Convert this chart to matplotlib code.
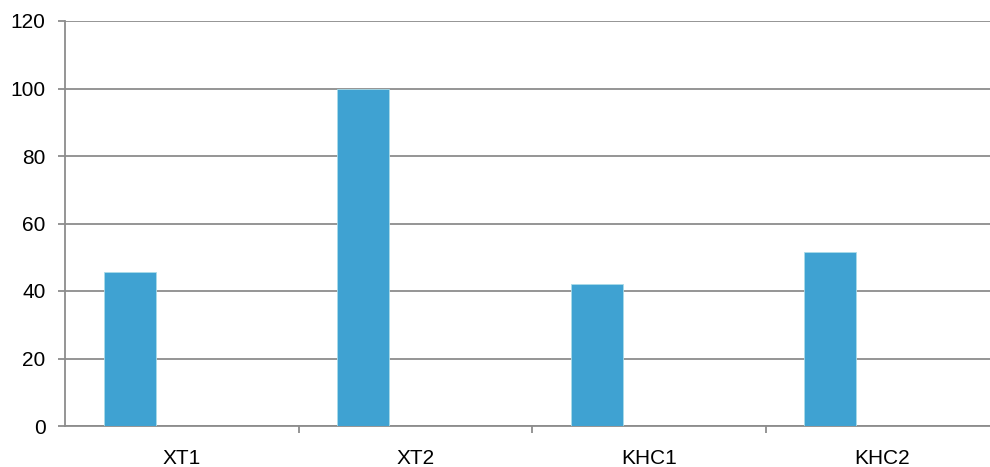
import matplotlib
matplotlib.use("Agg")
import matplotlib.pyplot as plt
import numpy as np

categories = ["XT1", "XT2", "KHC1", "KHC2"]
values = [45.5, 100, 42, 51.5]
y_ticks = [0, 20, 40, 60, 80, 100, 120]

plt.rcParams['font.family'] = ['Liberation Sans', 'DejaVu Sans']

fig = plt.figure(figsize=(9.9, 4.67), dpi=100)
# plot area runs a little past the right edge of the picture, like the original
ax = fig.add_axes([65 / 990, 41 / 467, 934 / 990, 405 / 467])

x = np.arange(len(categories))
# excel style: 3 series slots per category, gap width 150%, only first filled
bar_w = 1 / 4.5
offset = -0.5 + 0.75 * bar_w + 0.5 * bar_w
ax.bar(x + offset, values, width=bar_w, color="#3fa2d2", edgecolor="#a9dbe8",
       linewidth=0.6, zorder=3)

ax.set_xlim(-0.5, len(categories) - 0.5)
ax.set_ylim(0, 120)
ax.set_yticks(y_ticks)
ax.yaxis.grid(True, color="#8c8c8c", linewidth=1.3, zorder=0)

# category labels centered, tick marks on the category boundaries
ax.set_xticks(x)
ax.set_xticklabels(categories)
ax.set_xticks(np.arange(len(categories)) + 0.5, minor=True)
ax.tick_params(axis='x', which='major', length=0, pad=16.5, labelsize=15, colors="#000000")
ax.tick_params(axis='x', which='minor', length=5, width=1.3, color="#8c8c8c")
ax.tick_params(axis='y', length=5, width=1.3, color="#8c8c8c", pad=9, labelsize=15)

for side in ["top", "right"]:
    ax.spines[side].set_visible(False)
for side in ["left", "bottom"]:
    ax.spines[side].set_color("#8c8c8c")
    ax.spines[side].set_linewidth(1.3)

fig.savefig("out.png", dpi=100)
